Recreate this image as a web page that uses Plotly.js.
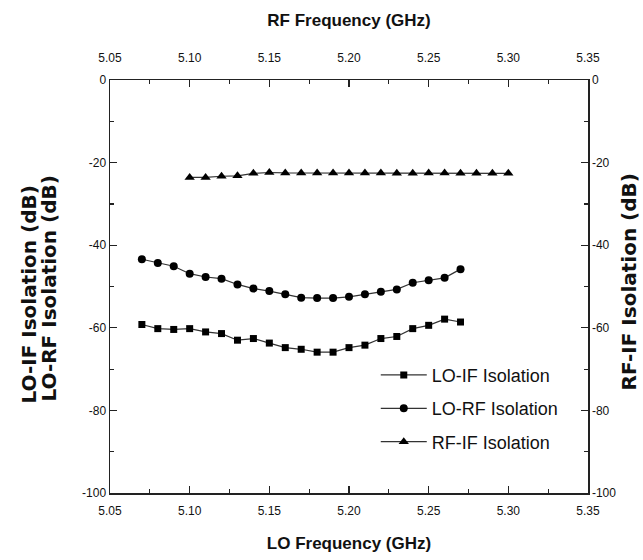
<!DOCTYPE html>
<html>
<head>
<meta charset="utf-8">
<script src="https://cdn.plot.ly/plotly-3.0.1.min.js"></script>
<style>
  html, body { margin: 0; padding: 0; background: #fff; }
  #chart { width: 643px; height: 560px; }
</style>
</head>
<body>
<div id="chart"></div>
<script>
// ---- data ----
const loFreq = [5.07,5.08,5.09,5.10,5.11,5.12,5.13,5.14,5.15,5.16,5.17,5.18,5.19,5.20,5.21,5.22,5.23,5.24,5.25,5.26,5.27];
const rfFreq = [5.10,5.11,5.12,5.13,5.14,5.15,5.16,5.17,5.18,5.19,5.20,5.21,5.22,5.23,5.24,5.25,5.26,5.27,5.28,5.29,5.30];
const loIF = [-59.2,-60.2,-60.4,-60.2,-61.0,-61.4,-63.0,-62.6,-63.7,-64.8,-65.2,-65.9,-65.9,-64.8,-64.2,-62.6,-62.1,-60.2,-59.4,-57.9,-58.6];
const loRF = [-43.4,-44.3,-45.1,-46.9,-47.7,-48.1,-49.5,-50.5,-51.1,-51.9,-52.7,-52.8,-52.8,-52.5,-51.9,-51.3,-50.7,-49.1,-48.5,-47.9,-45.8];
const rfIF = [-23.6,-23.6,-23.3,-23.2,-22.6,-22.4,-22.5,-22.5,-22.5,-22.5,-22.5,-22.5,-22.5,-22.6,-22.6,-22.5,-22.5,-22.6,-22.6,-22.6,-22.6];
const seriesNames = ["LO-IF Isolation","LO-RF Isolation","RF-IF Isolation"];
const xTickVals = [5.05,5.10,5.15,5.20,5.25,5.30,5.35];
const xTickText = ["5.05","5.10","5.15","5.20","5.25","5.30","5.35"];
const yTickVals = [0,-20,-40,-60,-80,-100];
const yTickText = ["0","-20","-40","-60","-80","-100"];

const sans = "Liberation Sans, Arial, sans-serif";
const wide = "DejaVu Sans, Liberation Sans, Arial, sans-serif";
const ink = "#111";

const lineStyle = {color: "#333", width: 1.2};

const traces = [
  {x: loFreq, y: loIF, name: seriesNames[0], legendgroup: "a", type: "scatter", mode: "lines+markers",
   line: lineStyle, marker: {symbol: "square", size: 7, color: "#000"}, xaxis: "x", yaxis: "y"},
  {x: loFreq, y: loRF, name: seriesNames[1], legendgroup: "b", type: "scatter", mode: "lines+markers",
   line: lineStyle, marker: {symbol: "circle", size: 8, color: "#000"}, xaxis: "x", yaxis: "y"},
  {x: rfFreq, y: rfIF, name: seriesNames[2], legendgroup: "c", type: "scatter", mode: "lines+markers",
   line: lineStyle, marker: {symbol: "triangle-up", size: 9, color: "#000"}, xaxis: "x2", yaxis: "y2"}
];

const minorTicks = (d, t0) => ({dtick: d, tick0: t0, ticks: "inside", ticklen: 4, tickwidth: 1.2, tickcolor: "#222"});

const axisCommon = {
  showline: true, linecolor: "#222", linewidth: 1.5,
  ticks: "inside", ticklen: 7, tickwidth: 1.3, tickcolor: "#222",
  showgrid: false, zeroline: false,
  tickfont: {family: sans, size: 12, color: ink}
};

const layout = {
  width: 643, height: 560,
  margin: {l: 110, r: 55, t: 80, b: 67},
  paper_bgcolor: "#fff", plot_bgcolor: "#fff",
  showlegend: true,
  legend: {
    x: 0.556, y: 0.33, xanchor: "left", yanchor: "top",
    bgcolor: "rgba(0,0,0,0)", borderwidth: 0,
    font: {family: sans, size: 18, color: ink},
    traceorder: "grouped", tracegroupgap: 7, itemwidth: 46
  },
  xaxis: Object.assign({}, axisCommon, {
    range: [5.05, 5.35], tickvals: xTickVals, ticktext: xTickText,
    minor: minorTicks(0.025, 5.05), ticklabelstandoff: 6,
    title: {text: "<b>LO Frequency (GHz)</b>", font: {family: sans, size: 17, color: ink}, standoff: 20},
    side: "bottom"
  }),
  xaxis2: Object.assign({}, axisCommon, {
    range: [5.05, 5.35], tickvals: xTickVals, ticktext: xTickText,
    minor: minorTicks(0.025, 5.05), ticklabelstandoff: 12,
    title: {text: "<b>RF Frequency (GHz)</b>", font: {family: sans, size: 17, color: ink}, standoff: 20},
    side: "top", overlaying: "x", anchor: "y"
  }),
  yaxis: Object.assign({}, axisCommon, {
    range: [-100, 0], tickvals: yTickVals, ticktext: yTickText,
    minor: minorTicks(10, 0),
    side: "left"
  }),
  yaxis2: Object.assign({}, axisCommon, {
    range: [-100, 0], tickvals: yTickVals, ticktext: yTickText,
    minor: minorTicks(10, 0),
    side: "right", overlaying: "y", anchor: "x"
  }),
  annotations: [
    {text: "<b>LO-IF Isolation (dB)</b>", xref: "paper", yref: "paper", x: 0, y: 0.5, xshift: -82, yshift: -8,
     textangle: -90, showarrow: false, xanchor: "center", yanchor: "middle",
     font: {family: wide, size: 20, color: ink}},
    {text: "<b>LO-RF Isolation (dB)</b>", xref: "paper", yref: "paper", x: 0, y: 0.5, xshift: -62, yshift: -2,
     textangle: -90, showarrow: false, xanchor: "center", yanchor: "middle",
     font: {family: wide, size: 20, color: ink}},
    {text: "<b>RF-IF Isolation (dB)</b>", xref: "paper", yref: "paper", x: 1, y: 0.5, xshift: 40, yshift: 4,
     textangle: -90, showarrow: false, xanchor: "center", yanchor: "middle",
     font: {family: wide, size: 20, color: ink}}
  ]
};

Plotly.newPlot("chart", traces, layout, {displayModeBar: false, staticPlot: true});
</script>
</body>
</html>
